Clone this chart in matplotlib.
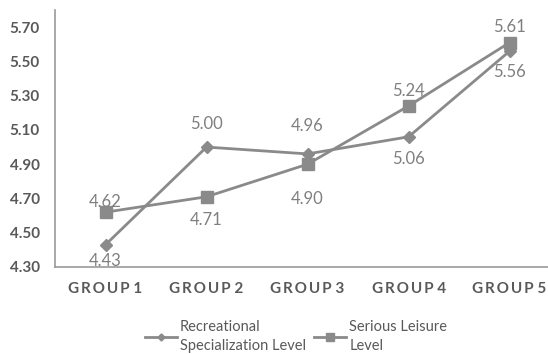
import matplotlib.pyplot as plt
import numpy as np

groups = ['GROUP 1', 'GROUP 2', 'GROUP 3', 'GROUP 4', 'GROUP 5']
recreational = [4.43, 5.00, 4.96, 5.06, 5.56]
serious = [4.62, 4.71, 4.90, 5.24, 5.61]
yticks = [4.30, 4.50, 4.70, 4.90, 5.10, 5.30, 5.50, 5.70]

# vertical label offsets in pixels (positive = above the point)
rec_off = [-16, 23, 28, -22, -21]
ser_off = [10, -23, -35, 15, 16]

plt.rcParams['font.family'] = ['Lato', 'DejaVu Sans']

line_col = '#8a8a8a'
text_col = '#595959'
label_col = '#7f7f7f'

fig = plt.figure(figsize=(5.48, 3.54), dpi=100)
ax = fig.add_axes([55 / 548, 1 - 267 / 354, 1 - 55 / 548, (267 - 10) / 354])

x = np.arange(len(groups))
ax.plot(x, recreational, color=line_col, lw=2, marker='D', ms=6,
        label='Recreational\nSpecialization Level')
ax.plot(x, serious, color=line_col, lw=2, marker='s', ms=9,
        label='Serious Leisure\nLevel')

for xi, v, o in zip(x, recreational, rec_off):
    ax.annotate(f'{v:.2f}', (xi, v), xytext=(0, o * 0.72), textcoords='offset points',
                ha='center', va='center', fontsize=12, color=label_col)
for xi, v, o in zip(x, serious, ser_off):
    ax.annotate(f'{v:.2f}', (xi, v), xytext=(0, o * 0.72), textcoords='offset points',
                ha='center', va='center', fontsize=12, color=label_col)

ax.set_xlim(-0.5, 4.38)
ax.set_ylim(4.30, 5.80)
ax.set_yticks(yticks)
ax.set_yticklabels([f'{t:.2f}' for t in yticks], fontsize=11, fontweight='bold', color=text_col)
ax.set_xticks(x)
# tracked-out category labels
spaced = ['\u2009'.join(g.split(' ')[0]) + ' ' + g.split(' ')[1] for g in groups]
ax.set_xticklabels(spaced, fontsize=11, fontweight='bold', color=text_col)
ax.tick_params(axis='x', length=0, pad=11)
ax.tick_params(axis='y', length=0, pad=11)

for side in ['top', 'right']:
    ax.spines[side].set_visible(False)
for side in ['left', 'bottom']:
    ax.spines[side].set_color('#999999')
    ax.spines[side].set_linewidth(1.2)

leg = fig.legend(loc='center', bbox_to_anchor=(0.54, 0.05), ncol=2, frameon=False,
                 fontsize=10.5, labelcolor=text_col, handlelength=2.2, handletextpad=0.2,
                 columnspacing=0.6, markerscale=0.6)
for t in leg.get_texts():
    t.set_linespacing(1.5)

fig.savefig('out.png', dpi=100)
